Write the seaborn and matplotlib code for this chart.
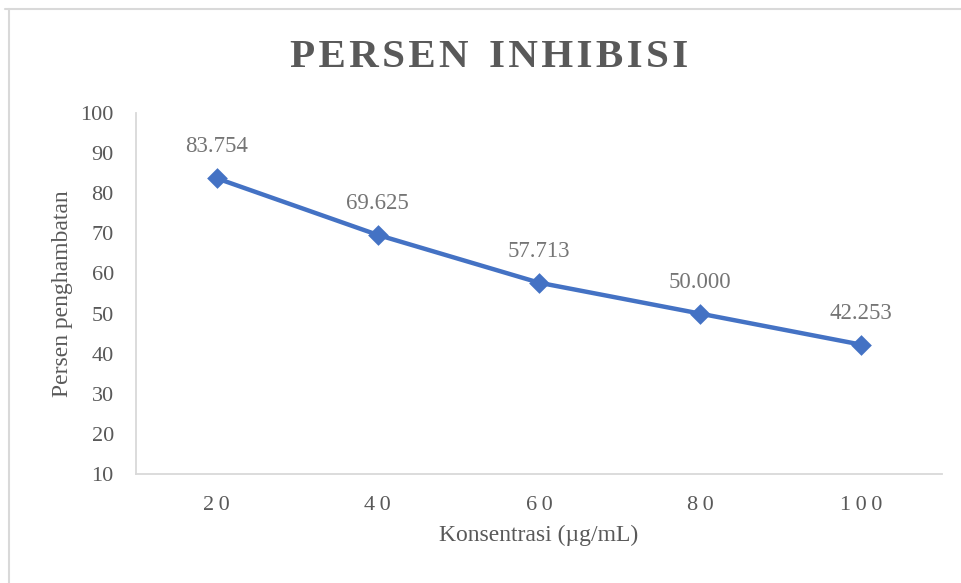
import pandas as pd
import matplotlib.pyplot as plt
from matplotlib.lines import Line2D
import seaborn as sns

konsentrasi = ["20", "40", "60", "80", "100"]
persen = [83.754, 69.625, 57.713, 50.000, 42.253]
y_ticks = [10, 20, 30, 40, 50, 60, 70, 80, 90, 100]

df = pd.DataFrame({"konsentrasi": konsentrasi, "persen": persen})

BLUE = "#4472C4"
DARK = "#595959"
LABEL = "#757575"
AXIS = "#D9D9D9"
SERIF = ["Liberation Serif", "DejaVu Serif"]

sns.set_style("white")
plt.rcParams["font.family"] = SERIF

fig = plt.figure(figsize=(9.61, 5.83), dpi=100, facecolor="white")
ax = fig.add_axes([0.1415, 0.187, 0.8385, 0.619])

sns.pointplot(data=df, x="konsentrasi", y="persen", ax=ax, color=BLUE,
              markers="D", markersize=8, linewidth=3.2, errorbar=None)

ax.set_xlim(-0.5, 4.5)
ax.set_ylim(10, 100)
ax.set_yticks(y_ticks)
ax.set_yticklabels([str(t) for t in y_ticks], color=DARK, fontsize=16)
ax.set_xticks(range(len(konsentrasi)))
ax.set_xticklabels(["\u2009".join(k) for k in konsentrasi], color=DARK, fontsize=16)
ax.tick_params(axis="both", length=0)
ax.tick_params(axis="y", pad=16)
ax.tick_params(axis="x", pad=16)

for s in ["top", "right"]:
    ax.spines[s].set_visible(False)
for s in ["left", "bottom"]:
    ax.spines[s].set_color(AXIS)
    ax.spines[s].set_linewidth(1.3)

# data labels
for i, v in enumerate(persen):
    ax.annotate(f"{v:.3f}", (i, v), xytext=(0, 15), textcoords="offset points",
                ha="center", va="bottom", color=LABEL, fontsize=16.5)

ax.set_xlabel("Konsentrasi (µg/mL)", color=DARK, fontsize=17, labelpad=7)
ax.set_ylabel("Persen penghambatan", color=DARK, fontsize=17, labelpad=5)

fig.text(0.509, 0.901, "\u200a".join("PERSEN") + "  " + "\u200a".join("INHIBISI"),
         ha="center", va="center", fontsize=29.5, fontweight="bold", color=DARK)

# chart frame
fig.add_artist(Line2D([5 / 961, 1], [1 - 9 / 583, 1 - 9 / 583],
                      transform=fig.transFigure, color=AXIS, linewidth=1.5))
fig.add_artist(Line2D([9 / 961, 9 / 961], [0, 1 - 9 / 583],
                      transform=fig.transFigure, color=AXIS, linewidth=1.5))

fig.savefig("out.png", dpi=100, facecolor="white")
